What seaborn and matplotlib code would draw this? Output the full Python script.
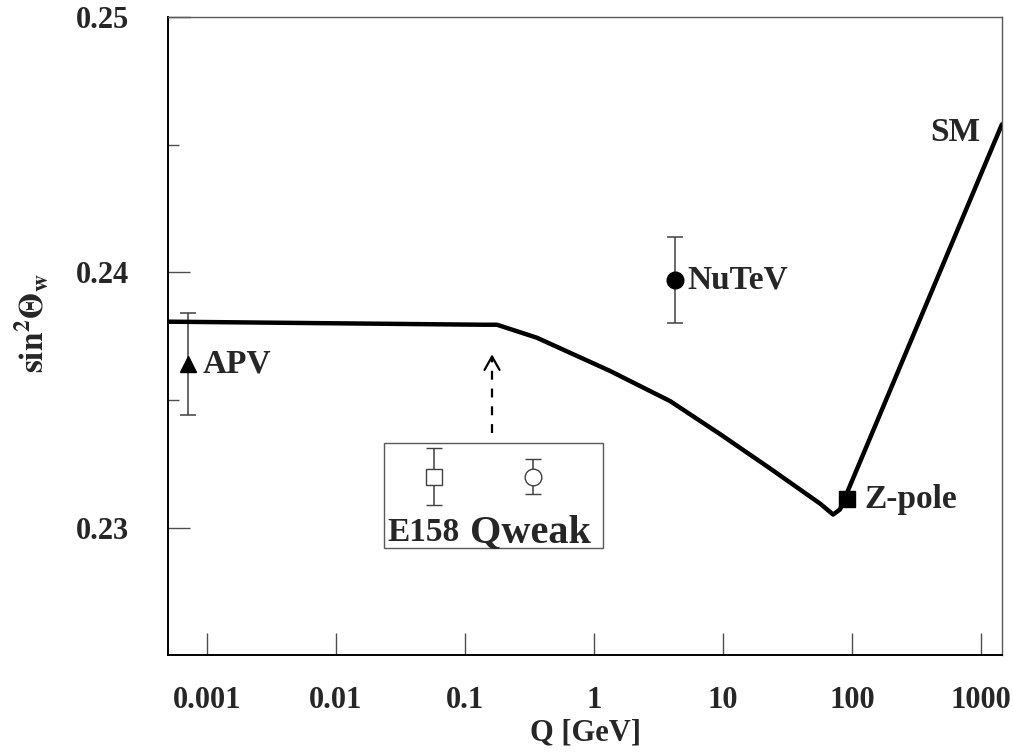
import matplotlib
matplotlib.use("Agg")
import matplotlib.pyplot as plt
from matplotlib.patches import Rectangle
import pandas as pd
import seaborn as sns

# Standard Model running of sin^2(theta_W) vs Q
sm_q = [0.0005, 0.138, 0.177, 0.361, 0.652, 1.33, 2.72, 3.88, 9.5, 23.1, 56.5, 71.3, 80.7, 1450]
sm_s2w = [0.23807, 0.23795, 0.23795, 0.23744, 0.23685, 0.23614, 0.23535, 0.23496,
          0.23366, 0.23232, 0.23094, 0.23051, 0.23071, 0.24580]

# measurements (Q [GeV], value, error)
apv = (0.00071, 0.2364, 0.0020)
nutev = (4.25, 0.2397, 0.0017)
zpole = (91.2, 0.2311)

# projected experiments shown in the inset box
e158 = (0.0575, 0.2320, 0.0011)
qweak = (0.336, 0.2320, 0.0007)

# arrow pointing from the box to the curve
arrow_q = 0.162
arrow_tail, arrow_tip = 0.2337, 0.2369

xticks = [0.001, 0.01, 0.1, 1, 10, 100, 1000]
xticklabels = ["0.001", "0.01", "0.1", "1", "10", "100", "1000"]
yticks = [0.23, 0.24, 0.25]
yticklabels = ["0.23", "0.24", "0.25"]

sns.set_theme(style="ticks")
plt.rcParams["font.family"] = ["Liberation Serif", "DejaVu Serif"]
plt.rcParams["font.weight"] = "bold"
plt.rcParams["mathtext.fontset"] = "stix"

fig = plt.figure(figsize=(10.13, 7.53), dpi=100)
ax = fig.add_axes([0.166, 0.130, 0.823, 0.847])

sm = pd.DataFrame({"Q": sm_q, "s2w": sm_s2w})
sns.lineplot(data=sm, x="Q", y="s2w", sort=False, color="black", lw=3.2, ax=ax,
             zorder=3, solid_capstyle="round")

ebkw = dict(ecolor="0.25", elinewidth=1.1, capsize=6, capthick=1.1, ls="none")
ax.errorbar(apv[0], apv[1], yerr=apv[2], fmt="^", ms=11, mfc="black", mec="black", **ebkw)
ax.errorbar(nutev[0], nutev[1], yerr=nutev[2], fmt="o", ms=12, mfc="black", mec="black", **ebkw)
ax.plot(zpole[0], zpole[1], "s", ms=12, color="black", zorder=4)
ax.errorbar(e158[0], e158[1], yerr=e158[2], fmt="s", ms=12, mfc="white", mec="0.25",
            mew=1.0, **ebkw)
ax.errorbar(qweak[0], qweak[1], yerr=qweak[2], fmt="o", ms=12, mfc="white", mec="0.25",
            mew=1.0, **ebkw)

# inset box around E158 / Qweak
ax.add_patch(Rectangle((0.259, 0.168), 0.263, 0.165, transform=ax.transAxes,
                       fill=False, ec="0.35", lw=1.0))

# dashed arrow
ax.plot([arrow_q, arrow_q], [arrow_tail, arrow_tip - 0.0002], ls=(0, (4, 4)),
        color="black", lw=1.6)
ax.annotate("", xy=(arrow_q, arrow_tip), xytext=(arrow_q, arrow_tip - 0.0005),
            arrowprops=dict(arrowstyle="->,head_length=0.8,head_width=0.45",
                            color="black", lw=1.6))

lab = dict(fontsize=24, fontweight="bold", va="center")
ax.text(0.00092, apv[1], "APV", ha="left", **lab)
ax.text(5.3, nutev[1], "NuTeV", ha="left", **lab)
ax.text(125, zpole[1], "Z-pole", ha="left", **lab)
ax.text(980, 0.2455, "SM", ha="right", **lab)
ax.text(0.0250, 0.2298, "E158", ha="left", **lab)
ax.text(0.110, 0.2298, "Qweak", ha="left", fontsize=29, fontweight="bold", va="center")

ax.set_xscale("log")
ax.set_xlim(5e-4, 1450)
ax.set_ylim(0.225, 0.25)
ax.set_xticks(xticks)
ax.set_xticklabels(xticklabels)
ax.minorticks_off()
ax.set_yticks(yticks)
ax.set_yticklabels(yticklabels)
ax.set_yticks([0.235, 0.245], minor=True)

ax.tick_params(axis="both", which="major", direction="in", length=16, width=1.0,
               labelsize=22, color="0.3")
ax.tick_params(axis="y", which="minor", direction="in", length=8, width=1.0, color="0.3")
ax.tick_params(axis="x", which="major", pad=22)
ax.tick_params(axis="y", which="major", pad=28)
for t in ax.get_xticklabels() + ax.get_yticklabels():
    t.set_fontweight("bold")

for side in ["left", "bottom"]:
    ax.spines[side].set_color("black")
    ax.spines[side].set_linewidth(1.4)
for side in ["top", "right"]:
    ax.spines[side].set_color("0.35")
    ax.spines[side].set_linewidth(1.0)

ax.set_xlabel("Q [GeV]", fontsize=22, fontweight="bold")
ax.set_ylabel(r"$\mathbf{sin^2\Theta_w}$", fontsize=24)
ax.xaxis.set_label_coords(0.5, -0.100)
ax.yaxis.set_label_coords(-0.140, 0.52)

fig.savefig("out.png", dpi=100)
